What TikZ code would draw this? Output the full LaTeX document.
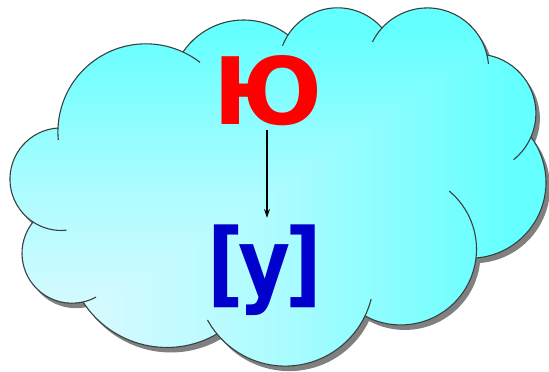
\documentclass[tikz,border=0pt]{standalone}
\usepackage{fontspec}
\newfontfamily\djv{DejaVu Sans}
\usetikzlibrary{arrows.meta}
\definecolor{cloudlight}{RGB}{232,249,255}
\definecolor{cloudmid}{RGB}{172,252,255}
\definecolor{cloudcyan}{RGB}{100,255,255}
\definecolor{yured}{RGB}{255,0,0}
\definecolor{ublue}{RGB}{0,0,204}
\definecolor{cloudedge}{RGB}{55,65,65}
\definecolor{cloudshadow}{RGB}{128,128,128}
\pgfdeclareverticalshading{cloudv}{100bp}{color(0bp)=(cloudlight); color(25bp)=(cloudlight); color(50bp)=(cloudmid); color(72bp)=(cloudcyan); color(100bp)=(cloudcyan)}
\pgfdeclarehorizontalshading{cloudh}{100bp}{color(0bp)=(cloudlight); color(25bp)=(cloudlight); color(50bp)=(cloudmid); color(72bp)=(cloudcyan); color(100bp)=(cloudcyan)}
% circle through start (#2,#3), middle (#4,#5), end (#6,#7); arc drawn counterclockwise
\newcommand\setbump[7]{%
  \edef\tmpD{\fpeval{2*((#2)*((#5)-(#7))+(#4)*((#7)-(#3))+(#6)*((#3)-(#5)))}}%
  \edef\tmpUx{\fpeval{round((((#2)^2+(#3)^2)*((#5)-(#7))+((#4)^2+(#5)^2)*((#7)-(#3))+((#6)^2+(#7)^2)*((#3)-(#5)))/\tmpD,4)}}%
  \edef\tmpUy{\fpeval{round((((#2)^2+(#3)^2)*((#6)-(#4))+((#4)^2+(#5)^2)*((#2)-(#6))+((#6)^2+(#7)^2)*((#4)-(#2)))/\tmpD,4)}}%
  \edef\tmpR{\fpeval{round(sqrt(((#2)-\tmpUx)^2+((#3)-\tmpUy)^2),4)}}%
  \edef\tmpA{\fpeval{round(atand((#3)-\tmpUy,(#2)-\tmpUx),4)}}%
  \edef\tmpC{\fpeval{atand((#7)-\tmpUy,(#6)-\tmpUx)}}%
  \edef\tmpC{\fpeval{round(\tmpA+(\tmpC-\tmpA)-360*floor((\tmpC-\tmpA)/360),4)}}%
  \expandafter\edef\csname cb#1ux\endcsname{\tmpUx}%
  \expandafter\edef\csname cb#1uy\endcsname{\tmpUy}%
  \expandafter\edef\csname cb#1r\endcsname{\tmpR}%
  \expandafter\edef\csname cb#1a\endcsname{\tmpA}%
  \expandafter\edef\csname cb#1c\endcsname{\tmpC}%
  \expandafter\edef\csname cb#1x\endcsname{#2}%
  \expandafter\edef\csname cb#1y\endcsname{#3}%
  \expandafter\edef\csname cb#1arc\endcsname{arc[start angle=\tmpA, end angle=\tmpC, radius=\tmpR]}%
}
\setbump{TL}{183}{320}{140}{328}{58}{244}
\setbump{LF}{58}{244}{10}{195}{33}{150}
\setbump{LL}{33}{150}{22}{119}{83}{70}
\setbump{BL}{83}{70}{157}{25}{217}{38}
\setbump{BM}{217}{38}{290}{6}{365}{56}
\setbump{BR}{365}{56}{413}{48}{476}{114}
\setbump{RT}{476}{114}{546}{189}{531}{235}
\setbump{UR}{531}{235}{535}{269}{487}{317}
\setbump{TR}{487}{317}{430}{364}{382}{344}
\setbump{TM}{382}{344}{333}{364}{288}{337}
\setbump{TLM}{288}{337}{243}{352}{183}{320}
\newcommand\cloudoutline{(\cbTLx,\cbTLy) \cbTLarc \cbLFarc \cbLLarc \cbBLarc \cbBMarc \cbBRarc \cbRTarc \cbURarc \cbTRarc \cbTMarc \cbTLMarc -- cycle}
% inner continuation of a bump: #2=0 before its start, #2=1 after its end; #3 = length
\newcommand\bumpext[3]{%
  \edef\tmpr{\csname cb#1r\endcsname}%
  \edef\tmpe{\fpeval{round((#3)/\tmpr*180/pi,4)}}%
  \ifnum#2=0\relax
    \edef\tmpa{\fpeval{\csname cb#1a\endcsname-\tmpe}}\edef\tmpb{\csname cb#1a\endcsname}%
  \else
    \edef\tmpa{\csname cb#1c\endcsname}\edef\tmpb{\fpeval{\csname cb#1c\endcsname+\tmpe}}%
  \fi
  \edef\tmpx{\fpeval{round(\csname cb#1ux\endcsname+\tmpr*cosd(\tmpa),4)}}%
  \edef\tmpy{\fpeval{round(\csname cb#1uy\endcsname+\tmpr*sind(\tmpa),4)}}%
  \draw[cloudline] (\tmpx,\tmpy) arc[start angle=\tmpa, end angle=\tmpb, radius=\tmpr];%
}
\tikzset{
  cloudline/.style={draw=cloudedge, line width=1.1pt},
  letter/.style={inner sep=0pt, anchor=base, font=\djv\bfseries\fontsize{93}{100}\selectfont},
  arr/.style={-{Stealth[length=9pt,width=6pt]}, line width=1.2pt, black}
}
\begin{document}
\begin{tikzpicture}[x=1pt,y=1pt]
\useasboundingbox (0,0) rectangle (549,372);
% shadow
\fill[cloudshadow, xshift=4pt, yshift=-5pt] \cloudoutline;
% gradient fill
\begin{scope}
  \clip \cloudoutline;
  \shade[shading=cloudv] (10,6) rectangle (546,364);
  \shade[shading=cloudh] (10,6) -- (546,6) -- (546,364) -- cycle;
\end{scope}
% outline and inner arcs
\draw[cloudline, line join=round] \cloudoutline;
\bumpext{TL}{0}{20}
\bumpext{TL}{1}{12}
\bumpext{LF}{1}{35}
\bumpext{LL}{1}{14}
\bumpext{BM}{0}{17}
\bumpext{BM}{1}{18}
\bumpext{BR}{1}{75}
\bumpext{UR}{0}{29}
\bumpext{TR}{0}{9}
\bumpext{TR}{1}{17}
\bumpext{TM}{1}{12}
% letters
\node[letter, text=yured, outer sep=4pt] (yu) at (268.5,247) {Ю};
\node[letter, text=ublue, outer ysep=7pt, xscale=0.86] (u) at (264.5,76.5) {[\kern-6pt у\kern-6pt]};
\coordinate (ax) at (267,0);
\draw[arr] (yu.south -| ax) -- (u.north -| ax);
\end{tikzpicture}
\end{document}
